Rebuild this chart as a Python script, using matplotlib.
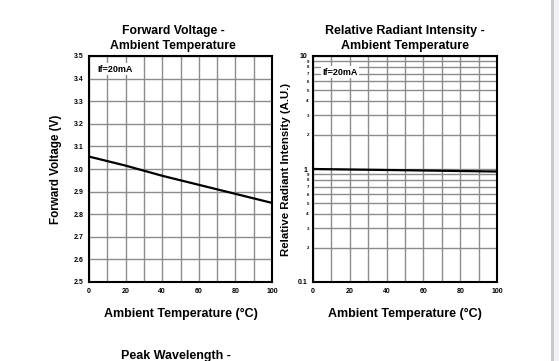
import matplotlib
matplotlib.use("Agg")
import matplotlib.pyplot as plt
from matplotlib.patches import Rectangle
from matplotlib.ticker import FixedLocator, FixedFormatter

plt.rcParams['font.family'] = ['Liberation Sans', 'DejaVu Sans']
plt.rcParams['font.weight'] = 'bold'

# data
temp = [0, 20, 40, 60, 80, 100]
vf = [3.055, 3.015, 2.97, 2.93, 2.89, 2.85]
rel_int = [1.0, 0.99, 0.98, 0.97, 0.96, 0.95]

x_ticks = [0, 20, 40, 60, 80, 100]
vf_ticks = [2.5, 2.6, 2.7, 2.8, 2.9, 3.0, 3.1, 3.2, 3.3, 3.4, 3.5]
log_major = [0.1, 1, 10]
log_minor = [0.2, 0.3, 0.4, 0.5, 0.6, 0.7, 0.8, 0.9, 2, 3, 4, 5, 6, 7, 8, 9]
log_minor_labels = ['2', '3', '4', '5', '6', '7', '8', '9'] * 2

grid_col = '#8c8c8c'

fig = plt.figure(figsize=(5.59, 3.61), dpi=100)

# side strip on the right edge of the page
fig.patches.append(Rectangle((551 / 559, 0), 2.5 / 559, 1, transform=fig.transFigure,
                             facecolor='#c8c8cc', edgecolor='none'))
fig.patches.append(Rectangle((553.5 / 559, 0), 6 / 559, 1, transform=fig.transFigure,
                             facecolor='#f2f2f5', edgecolor='none'))

ax1 = fig.add_axes([89 / 559, 1 - 282 / 361, 183 / 559, 226 / 361])
ax2 = fig.add_axes([313 / 559, 1 - 282 / 361, 184 / 559, 226 / 361])

# left: forward voltage
ax1.plot(temp, vf, color='black', lw=1.6, zorder=3)
ax1.set_xlim(0, 100)
ax1.set_ylim(2.5, 3.5)
ax1.set_xticks(x_ticks)
ax1.set_xticks(range(10, 100, 20), minor=True)
ax1.set_yticks(vf_ticks)
ax1.set_yticklabels(['%.1f' % v for v in vf_ticks])
ax1.grid(True, which='both', color=grid_col, lw=1.0)
ax1.set_title('Forward Voltage -\nAmbient Temperature', fontsize=8.8, fontweight='bold',
              pad=5, linespacing=1.3, x=0.46)
ax1.set_ylabel('Forward Voltage (V)', fontsize=8.4, fontweight='bold')
ax1.yaxis.set_label_coords(-0.145, 0.5)
ax1.set_xlabel('Ambient Temperature (\u00b0C)', fontsize=9, fontweight='bold', labelpad=10)
ax1.text(4.5, 3.442, 'If=20mA', fontsize=6.5, fontweight='bold', va='center', ha='left',
         bbox=dict(facecolor='white', edgecolor='none', pad=1), zorder=4)

# right: relative radiant intensity
ax2.plot(temp, rel_int, color='black', lw=1.6, zorder=3)
ax2.set_xlim(0, 100)
ax2.set_yscale('log')
ax2.set_ylim(0.1, 10)
ax2.set_xticks(x_ticks)
ax2.set_xticks(range(10, 100, 20), minor=True)
ax2.yaxis.set_major_locator(FixedLocator(log_major))
ax2.yaxis.set_major_formatter(FixedFormatter(['0.1', '1', '10']))
ax2.yaxis.set_minor_locator(FixedLocator(log_minor))
ax2.yaxis.set_minor_formatter(FixedFormatter(log_minor_labels))
ax2.tick_params(axis='y', which='minor', labelsize=3.2, length=0, pad=3)
ax2.grid(True, which='both', color=grid_col, lw=1.0)
ax2.set_title('Relative Radiant Intensity -\nAmbient Temperature', fontsize=9,
              fontweight='bold', pad=5, linespacing=1.3)
ax2.set_ylabel('Relative Radiant Intensity (A.U.)', fontsize=8.2, fontweight='bold')
ax2.yaxis.set_label_coords(-0.122, 0.5)
ax2.set_xlabel('Ambient Temperature (\u00b0C)', fontsize=9, fontweight='bold', labelpad=10)
ax2.text(5, 7.2, 'If=20mA', fontsize=6.5, fontweight='bold', va='center', ha='left',
         bbox=dict(facecolor='white', edgecolor='none', pad=1), zorder=4)

for ax in (ax1, ax2):
    for s in ax.spines.values():
        s.set_linewidth(1.5)
        s.set_zorder(5)
    ax.tick_params(axis='both', which='major', labelsize=5, length=0, pad=4)
    ax.tick_params(axis='x', which='minor', length=0)
    for lab in ax.get_xticklabels() + ax.get_yticklabels():
        lab.set_fontweight('bold')
    for lab in ax.get_yticklabels(minor=True):
        lab.set_fontweight('bold')

# next chart's title, cut off by the page edge
fig.text(176 / 559, 1 - 359 / 361, 'Peak Wavelength -', fontsize=9, fontweight='bold',
         ha='center', va='baseline')

fig.savefig('out.png', dpi=100)
